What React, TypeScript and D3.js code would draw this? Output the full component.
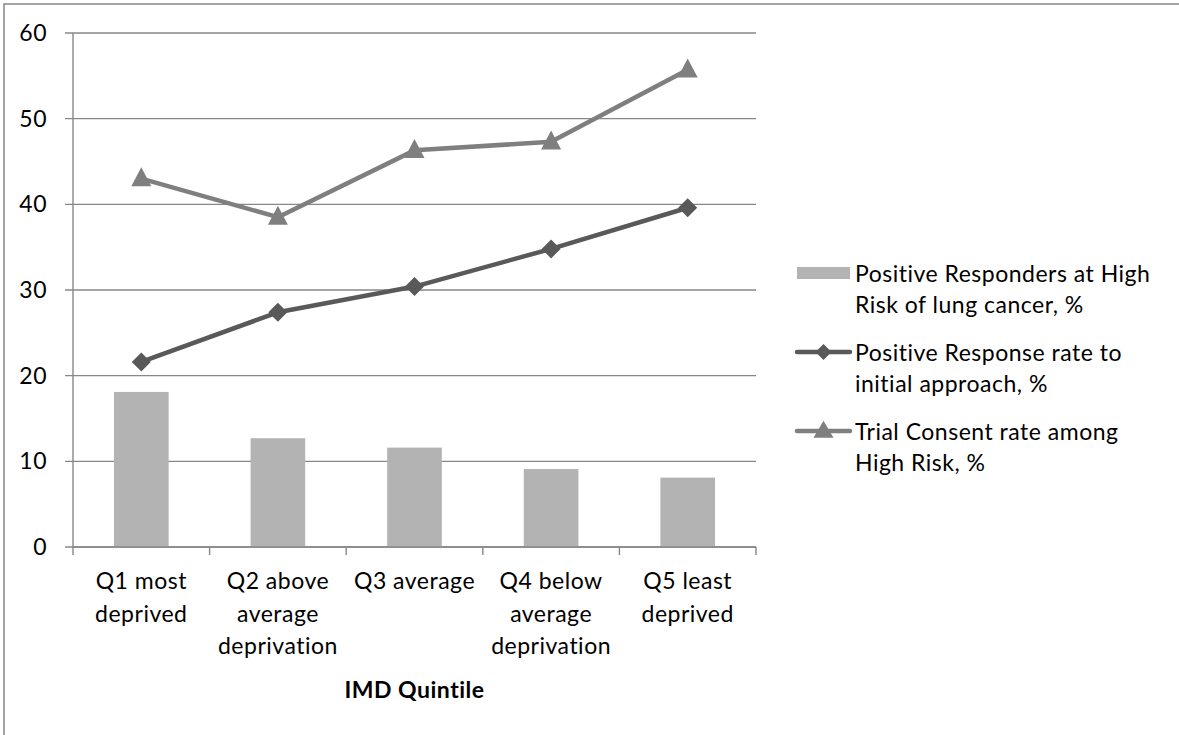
import React from "react";
import * as d3 from "d3";

const categories = ["Q1", "Q2", "Q3", "Q4", "Q5"];
const categoryLabels: string[][] = [
  ["Q1 most", "deprived"],
  ["Q2 above", "average", "deprivation"],
  ["Q3 average"],
  ["Q4 below", "average", "deprivation"],
  ["Q5 least", "deprived"],
];
const highRiskResponders = [18.1, 12.7, 11.6, 9.1, 8.1];
const responseRate = [21.6, 27.4, 30.4, 34.8, 39.6];
const consentRate = [43.0, 38.5, 46.3, 47.3, 55.7];
const yTicks = [0, 10, 20, 30, 40, 50, 60];
const seriesNames = [
  ["Positive Responders at High", "Risk of lung cancer, %"],
  ["Positive Response rate to", "initial approach, %"],
  ["Trial Consent rate among", "High Risk, %"],
];
const xTitle = "IMD Quintile";

const FONT = "Lato, 'Noto Sans', sans-serif";
const FS = 23;
const LS = 0.5;
const GRID = "#878787";
const BAR = "#b3b3b3";
const DARK = "#595959";
const MID = "#7f7f7f";

export default function App() {
  const left = 73, right = 756, top = 33, bottom = 547;
  const y = d3.scaleLinear().domain([0, 60]).range([bottom, top]);
  const x = d3.scaleBand<string>().domain(categories).range([left, right]).paddingInner(0.6).paddingOuter(0.3);
  const step = x.step();
  const cx = (c: string) => (x(c) as number) + x.bandwidth() / 2;
  const line = d3.line<number>().x((_, i) => cx(categories[i])).y((v) => y(v));
  const diamond = (px: number, py: number, r: number) =>
    `M${px},${py - r}L${px + r},${py}L${px},${py + r}L${px - r},${py}Z`;
  const tri = (px: number, py: number, w: number, h: number) =>
    `M${px},${py - h * 0.6}L${px + w / 2},${py + h * 0.4}L${px - w / 2},${py + h * 0.4}Z`;

  const legX0 = 797, legX1 = 850, legText = 855;
  const legBase = [282, 361, 440];

  return (
    <svg width={1179} height={735} style={{ position: "absolute", left: 0, top: 0, display: "block", background: "#fff" }}
      fontFamily={FONT}>
      <rect x={4} y={4} width={1200} height={760} fill="#fff" stroke={GRID} strokeWidth={1.5} />
      {yTicks.map((t) => (
        <g key={t}>
          <line x1={65} x2={right} y1={y(t)} y2={y(t)} stroke={GRID} strokeWidth={1.4} />
          <text x={47} y={y(t) + 8} textAnchor="end" fontSize={FS} letterSpacing={LS} fill="#000">{t}</text>
        </g>
      ))}
      <line x1={left} x2={left} y1={top} y2={bottom} stroke={GRID} strokeWidth={1.4} />
      {d3.range(categories.length + 1).map((i) => (
        <line key={i} x1={left + i * step} x2={left + i * step} y1={bottom} y2={bottom + 8} stroke={GRID} strokeWidth={1.4} />
      ))}
      {categories.map((c, i) => (
        <rect key={c} x={x(c)} y={y(highRiskResponders[i])} width={x.bandwidth()} height={y(0) - y(highRiskResponders[i])} fill={BAR} />
      ))}
      <line x1={left} x2={right} y1={bottom} y2={bottom} stroke={GRID} strokeWidth={1.4} />
      <path d={line(responseRate) as string} fill="none" stroke={DARK} strokeWidth={4.5} strokeLinejoin="round" />
      {responseRate.map((v, i) => (
        <path key={i} d={diamond(cx(categories[i]), y(v), 9.5)} fill={DARK} />
      ))}
      <path d={line(consentRate) as string} fill="none" stroke={MID} strokeWidth={4.5} strokeLinejoin="round" />
      {consentRate.map((v, i) => (
        <path key={i} d={tri(cx(categories[i]), y(v), 20, 19)} fill={MID} />
      ))}
      {categories.map((c, i) => (
        <text key={c} x={cx(c)} textAnchor="middle" fontSize={FS} letterSpacing={LS} fill="#000">
          {categoryLabels[i].map((s, k) => (
            <tspan key={k} x={cx(c)} y={589 + k * 32.5}>{s}</tspan>
          ))}
        </text>
      ))}
      <text x={(left + right) / 2} y={698} textAnchor="middle" fontSize={FS} letterSpacing={LS} fontWeight="bold" fill="#000">{xTitle}</text>
      <rect x={legX0} y={legBase[0] - 15} width={legX1 - legX0} height={12} fill={BAR} />
      <line x1={legX0} x2={legX1} y1={legBase[1] - 9} y2={legBase[1] - 9} stroke={DARK} strokeWidth={4.5} strokeLinecap="round" />
      <path d={diamond((legX0 + legX1) / 2, legBase[1] - 9, 8)} fill={DARK} />
      <line x1={legX0} x2={legX1} y1={legBase[2] - 9} y2={legBase[2] - 9} stroke={MID} strokeWidth={4.5} strokeLinecap="round" />
      <path d={tri((legX0 + legX1) / 2, legBase[2] - 9, 20, 17)} fill={MID} />
      {seriesNames.map((lines, i) => (
        <text key={i} fontSize={FS} letterSpacing={LS} fill="#000">
          {lines.map((s, k) => (
            <tspan key={k} x={legText} y={legBase[i] + k * 31}>{s}</tspan>
          ))}
        </text>
      ))}
    </svg>
  );
}
